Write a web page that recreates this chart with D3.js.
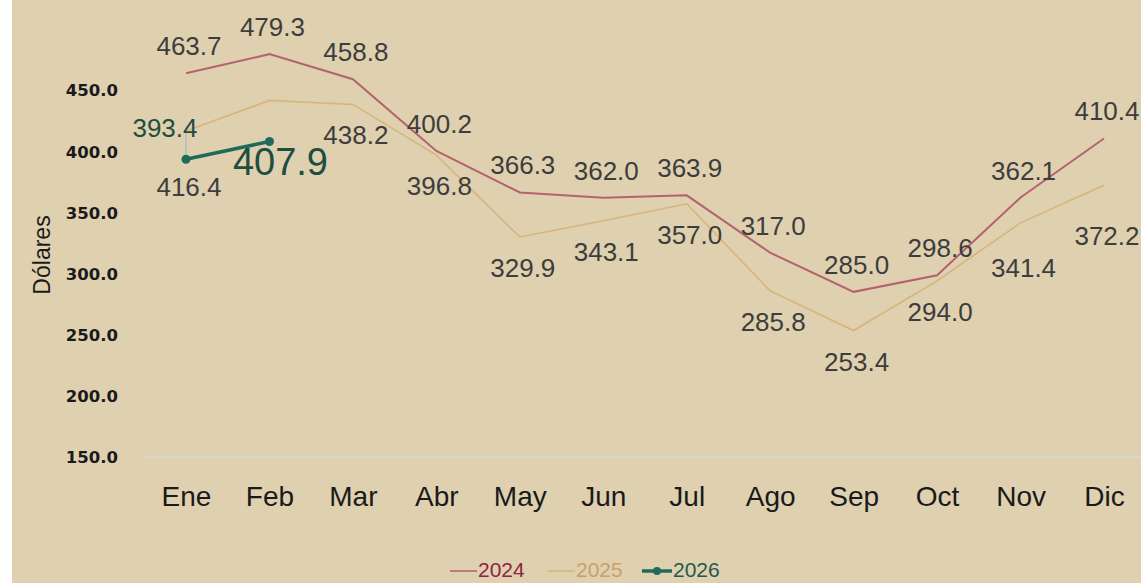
<!DOCTYPE html>
<html>
<head>
<meta charset="utf-8">
<script src="https://cdn.jsdelivr.net/npm/d3@7"></script>
<style>
  html, body { margin: 0; padding: 0; background: #ffffff; }
  svg { display: block; }
</style>
</head>
<body>
<svg id="chart" width="1141" height="583"></svg>
<script>
// data
const months = ["Ene", "Feb", "Mar", "Abr", "May", "Jun", "Jul", "Ago", "Sep", "Oct", "Nov", "Dic"];
const values2024 = [463.7, 479.3, 458.8, 400.2, 366.3, 362.0, 363.9, 317.0, 285.0, 298.6, 362.1, 410.4];
const values2025 = [416.4, 441.5, 438.2, 396.8, 329.9, 343.1, 357.0, 285.8, 253.4, 294.0, 341.4, 372.2];
const values2026 = [393.4, 407.9];
// Feb 2025 has no label in the original
const labels2025 = [true, false, true, true, true, true, true, true, true, true, true, true];
const yTicks = [150, 200, 250, 300, 350, 400, 450];
const years = ["2024", "2025", "2026"];

const W = 1141, H = 583;
const svg = d3.select("#chart");

svg.append("rect")
  .attr("x", 12).attr("y", 0)
  .attr("width", W - 12).attr("height", H)
  .attr("fill", "#dfd0b0");

const x = d3.scalePoint().domain(months).range([186, 1104]);
const y = d3.scaleLinear().domain([150, 450]).range([457, 90]);

const colors = { "2024": "#b5626f", "2025": "#d7b47a", "2026": "#1f6b5b" };
const legendText = { "2024": "#8e2443", "2025": "#c9a06a", "2026": "#1f5a4c" };

// baseline grid line at 150
svg.append("line")
  .attr("x1", 145).attr("x2", W)
  .attr("y1", y(150)).attr("y2", y(150))
  .attr("stroke", "#d9d6cf")
  .attr("stroke-width", 2);

// y axis
const yAxis = svg.append("g")
  .attr("transform", "translate(118,0)")
  .call(d3.axisLeft(y).tickValues(yTicks).tickSize(0).tickPadding(0).tickFormat(d3.format(".1f")));
yAxis.select(".domain").remove();
yAxis.selectAll("text")
  .attr("font-family", "DejaVu Sans")
  .attr("font-weight", "bold")
  .attr("font-size", 16.5)
  .attr("fill", "#1a1a1a")
  .attr("dy", "0.36em");

svg.append("text")
  .attr("transform", "translate(42,255) rotate(-90)")
  .attr("text-anchor", "middle")
  .attr("dominant-baseline", "central")
  .attr("font-family", "Liberation Sans")
  .attr("font-size", 23)
  .attr("fill", "#1a1a1a")
  .text("Dólares");

// x axis
const xAxis = svg.append("g")
  .attr("transform", "translate(0," + y(150) + ")")
  .call(d3.axisBottom(x).tickSize(0).tickPadding(0));
xAxis.select(".domain").remove();
xAxis.selectAll("text")
  .attr("font-family", "Liberation Sans")
  .attr("font-size", 28)
  .attr("fill", "#1a1a1a")
  .attr("y", 39)
  .attr("dy", "0.35em");

const line = d3.line()
  .x((d, i) => x(months[i]))
  .y((d) => y(d));

svg.append("path")
  .datum(values2025)
  .attr("d", line)
  .attr("fill", "none")
  .attr("stroke", colors["2025"])
  .attr("stroke-width", 1.6);

svg.append("path")
  .datum(values2024)
  .attr("d", line)
  .attr("fill", "none")
  .attr("stroke", colors["2024"])
  .attr("stroke-width", 2);

function addLabels(values, dy, show, nudge) {
  svg.append("g")
    .selectAll("text")
    .data(values.map((v, i) => ({ v: v, i: i })).filter((d) => !show || show[d.i]))
    .enter()
    .append("text")
    .attr("x", (d) => x(months[d.i]) + 3)
    .attr("y", (d) => y(d.v) + dy + (nudge[d.i] || 0))
    .attr("text-anchor", "middle")
    .attr("dominant-baseline", "central")
    .attr("font-family", "Liberation Sans")
    .attr("font-size", 26)
    .attr("fill", "#3d3d3d")
    .text((d) => d3.format(".1f")(d.v));
}

addLabels(values2024, -27, null, {});
addLabels(values2025, 31, labels2025, { 0: 25, 10: 14, 11: 20 });

// 2026 series
const g26 = svg.append("g");
g26.append("line")
  .attr("x1", x(months[0])).attr("x2", x(months[0]))
  .attr("y1", y(values2026[0]) - 2).attr("y2", y(values2026[0]) - 33)
  .attr("stroke", "#a9b9c6")
  .attr("stroke-width", 1.2);

g26.append("path")
  .datum(values2026)
  .attr("d", line)
  .attr("fill", "none")
  .attr("stroke", colors["2026"])
  .attr("stroke-width", 3.5);

g26.selectAll("circle")
  .data(values2026).enter()
  .append("circle")
  .attr("cx", (d, i) => x(months[i]))
  .attr("cy", (d) => y(d))
  .attr("r", 4.5)
  .attr("fill", colors["2026"]);

g26.append("text")
  .attr("x", x(months[0]) - 21)
  .attr("y", y(values2026[0]) - 31)
  .attr("text-anchor", "middle")
  .attr("dominant-baseline", "central")
  .attr("font-family", "Liberation Sans")
  .attr("font-size", 26)
  .attr("fill", "#1f4d40")
  .text(d3.format(".1f")(values2026[0]));

g26.append("text")
  .attr("x", x(months[1]) + 11)
  .attr("y", y(values2026[1]) + 20)
  .attr("text-anchor", "middle")
  .attr("dominant-baseline", "central")
  .attr("font-family", "Liberation Sans")
  .attr("font-size", 38)
  .attr("fill", "#1f4d40")
  .text(d3.format(".1f")(values2026[1]));

// legend
const legend = svg.append("g").attr("transform", "translate(450,0)");
const legendX = [0, 98, 192];
years.forEach((yr, i) => {
  const lg = legend.append("g").attr("transform", "translate(" + legendX[i] + ",0)");
  const sw = yr === "2026" ? 30 : 27;
  lg.append("line")
    .attr("x1", 0).attr("x2", sw)
    .attr("y1", 571).attr("y2", 571)
    .attr("stroke", colors[yr])
    .attr("stroke-width", yr === "2026" ? 3.5 : 1.6);
  if (yr === "2026") {
    lg.append("circle").attr("cx", sw / 2).attr("cy", 571).attr("r", 4).attr("fill", colors[yr]);
  }
  lg.append("text")
    .attr("x", sw + 1)
    .attr("y", 577)
    .attr("font-family", "Liberation Sans")
    .attr("font-size", 21)
    .attr("fill", legendText[yr])
    .text(yr);
});
</script>
</body>
</html>
